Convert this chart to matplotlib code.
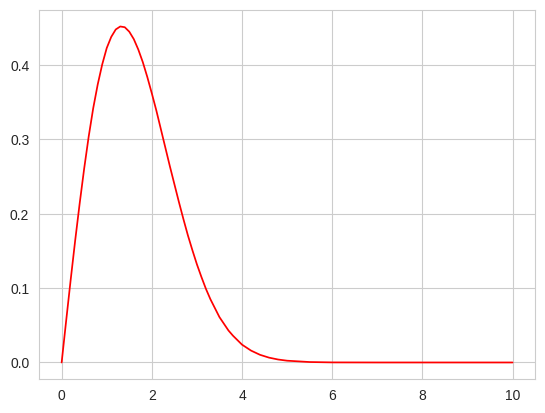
import matplotlib
matplotlib.use("Agg")
from matplotlib import pyplot as plt
import seaborn as sns

# values
x_vals = [0.0, 0.1, 0.2, 0.3, 0.4, 0.5, 0.6, 0.7, 0.8, 0.9,
          1.0, 1.1, 1.2, 1.3, 1.4, 1.5, 1.6, 1.7, 1.8, 1.9,
          2.0, 2.1, 2.2, 2.3, 2.4, 2.5, 2.6, 2.7, 2.8, 2.9,
          3.0, 3.1, 3.2, 3.3, 3.4, 3.5, 3.6, 3.7, 3.8, 3.9,
          4.0, 4.2, 4.4, 4.6, 4.8, 5.0, 5.5, 6.0, 7.0, 8.0, 9.0, 10.0]
y_vals = [0.0, 0.056, 0.111, 0.164, 0.214, 0.261, 0.304, 0.342, 0.374, 0.401,
          0.423, 0.438, 0.448, 0.452, 0.451, 0.445, 0.435, 0.421, 0.404, 0.384,
          0.362, 0.339, 0.314, 0.289, 0.264, 0.240, 0.216, 0.193, 0.171, 0.151,
          0.132, 0.115, 0.099, 0.085, 0.073, 0.061, 0.052, 0.043, 0.036, 0.030,
          0.024, 0.016, 0.0103, 0.0065, 0.0040, 0.0024, 0.0006, 0.0001, 0.0, 0.0, 0.0, 0.0]

sns.set_style("whitegrid")
plt.rcParams["font.family"] = ["Liberation Sans", "DejaVu Sans"]
fig, ax = plt.subplots(figsize=(6.4, 4.8), dpi=100)
ax.plot(x_vals, y_vals, color="red", linewidth=1.25)
ax.set_yticks([0.0, 0.1, 0.2, 0.3, 0.4])
ax.set_xticks([0, 2, 4, 6, 8, 10])
fig.savefig("out.png", dpi=100, bbox_inches="tight")
